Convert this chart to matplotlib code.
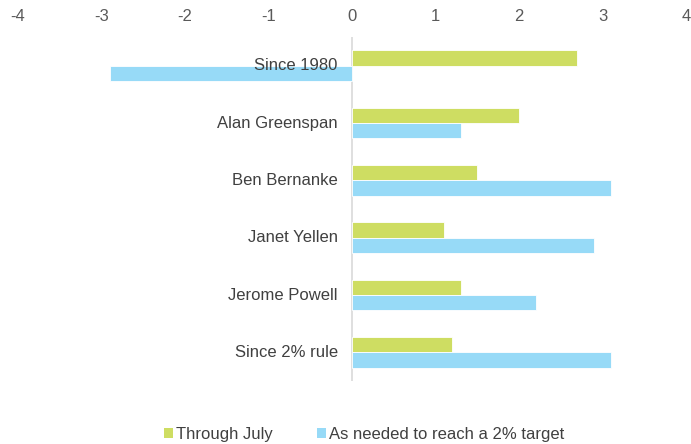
import numpy as np
import matplotlib
matplotlib.use("Agg")
import matplotlib.pyplot as plt
from matplotlib.patches import Patch

plt.rcParams['font.family'] = ['Liberation Sans', 'DejaVu Sans']

# data
categories = ["Since 1980", "Alan Greenspan", "Ben Bernanke", "Janet Yellen",
              "Jerome Powell", "Since 2% rule"]
through_july = [2.7, 2.0, 1.5, 1.1, 1.3, 1.2]
needed = [-2.9, 1.3, 3.1, 2.9, 2.2, 3.1]
series_names = ["Through July", "As needed to reach a 2% target"]
xticks = [-4, -3, -2, -1, 0, 1, 2, 3, 4]

green = "#CEDD62"
blue = "#97DAF7"

fig = plt.figure(figsize=(6.91, 4.44), dpi=100)
ax = fig.add_axes([18 / 691, 1 - 381 / 444, 668 / 691, 344 / 444])

y = np.arange(len(categories))
h = 0.265
ax.barh(y - h / 2, through_july, height=h, color=green, edgecolor="white", linewidth=0.6)
ax.barh(y + h / 2, needed, height=h, color=blue, edgecolor="white", linewidth=0.6)

ax.set_xlim(-4, 4)
ax.set_ylim(len(categories) - 0.5, -0.5)
ax.axvline(0, color="#d9d9d9", linewidth=1.2, zorder=0)

ax.xaxis.tick_top()
ax.set_xticks(xticks)
ax.set_xticklabels([str(t) for t in xticks])
ax.tick_params(axis="x", length=0, pad=9.5, labelsize=12, labelcolor="#595959")
ax.set_yticks([])
for s in ax.spines.values():
    s.set_visible(False)

# category labels placed left of zero line
for i, c in enumerate(categories):
    ax.text(-0.17, i, c, ha="right", va="center", fontsize=12, color="#404040")

handles = [Patch(facecolor=green, edgecolor="none"), Patch(facecolor=blue, edgecolor="none")]
fig.legend(handles, series_names, loc="lower center", bbox_to_anchor=(0.527, -0.03),
           ncol=2, frameon=False, fontsize=12, labelcolor="#404040",
           handlelength=0.55, handleheight=0.55, handletextpad=0.2, columnspacing=2.6)

fig.savefig("out.png", dpi=100)
